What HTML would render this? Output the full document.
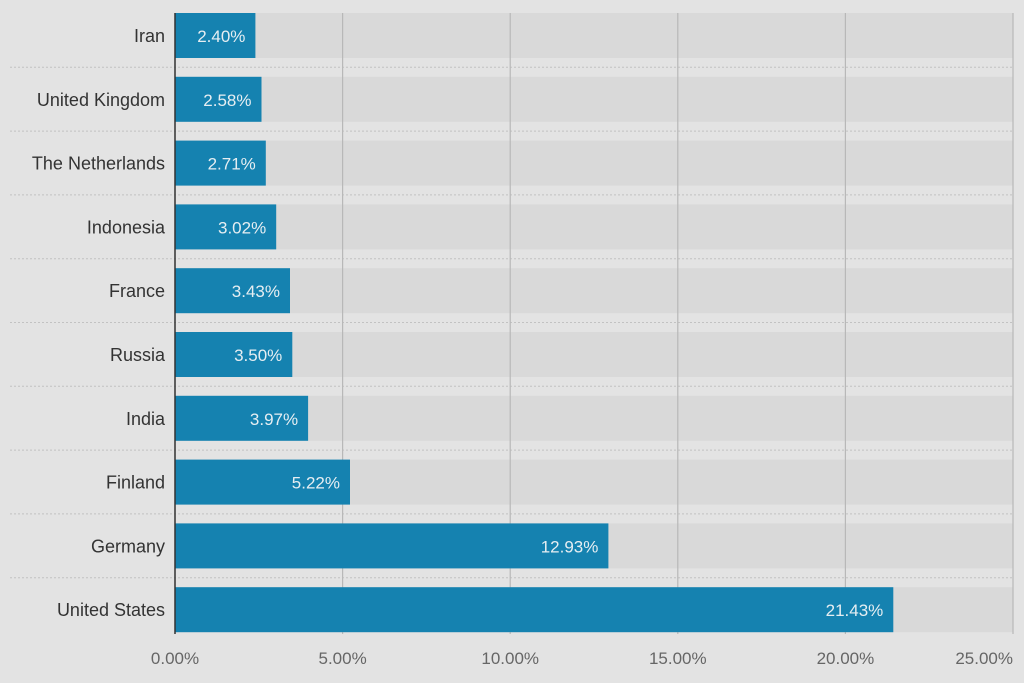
<!DOCTYPE html>
<html><head><meta charset="utf-8"><style>
body{margin:0;width:1024px;height:678px;background:#e3e3e3;overflow:hidden}
</style></head><body>
<svg width="1024" height="678" xmlns="http://www.w3.org/2000/svg" font-family="Liberation Sans, sans-serif">
<rect x="0" y="0" width="1024" height="678" fill="#e3e3e3"/>
<g fill="#d9d9d9">
<rect x="175" y="13" width="838" height="45"/>
<rect x="175" y="76.8" width="838" height="45"/>
<rect x="175" y="140.6" width="838" height="45"/>
<rect x="175" y="204.4" width="838" height="45"/>
<rect x="175" y="268.2" width="838" height="45"/>
<rect x="175" y="332" width="838" height="45"/>
<rect x="175" y="395.8" width="838" height="45"/>
<rect x="175" y="459.6" width="838" height="45"/>
<rect x="175" y="523.4" width="838" height="45"/>
<rect x="175" y="587.2" width="838" height="45"/>
</g>
<g stroke="#c2c2c2" stroke-dasharray="2,2">
<line x1="10" x2="1013" y1="67.3" y2="67.3"/>
<line x1="10" x2="1013" y1="131.1" y2="131.1"/>
<line x1="10" x2="1013" y1="194.9" y2="194.9"/>
<line x1="10" x2="1013" y1="258.7" y2="258.7"/>
<line x1="10" x2="1013" y1="322.5" y2="322.5"/>
<line x1="10" x2="1013" y1="386.3" y2="386.3"/>
<line x1="10" x2="1013" y1="450.1" y2="450.1"/>
<line x1="10" x2="1013" y1="513.9" y2="513.9"/>
<line x1="10" x2="1013" y1="577.7" y2="577.7"/>
</g>
<g stroke="#b8b8b8" stroke-width="1.2">
<line x1="342.6" x2="342.6" y1="13" y2="634"/>
<line x1="510.2" x2="510.2" y1="13" y2="634"/>
<line x1="677.8" x2="677.8" y1="13" y2="634"/>
<line x1="845.4" x2="845.4" y1="13" y2="634"/>
<line x1="1013" x2="1013" y1="13" y2="634"/>
</g>
<g fill="#1582b0">
<rect x="175" y="13" width="80.4" height="45"/>
<rect x="175" y="76.8" width="86.5" height="45"/>
<rect x="175" y="140.6" width="90.8" height="45"/>
<rect x="175" y="204.4" width="101.2" height="45"/>
<rect x="175" y="268.2" width="115" height="45"/>
<rect x="175" y="332" width="117.3" height="45"/>
<rect x="175" y="395.8" width="133.1" height="45"/>
<rect x="175" y="459.6" width="175" height="45"/>
<rect x="175" y="523.4" width="433.4" height="45"/>
<rect x="175" y="587.2" width="718.3" height="45"/>
</g>
<g fill="#e6eef2" font-size="17" text-anchor="end">
<text x="245.4" y="42">2.40%</text>
<text x="251.5" y="105.8">2.58%</text>
<text x="255.8" y="169.6">2.71%</text>
<text x="266.2" y="233.4">3.02%</text>
<text x="280" y="297.2">3.43%</text>
<text x="282.3" y="361">3.50%</text>
<text x="298.1" y="424.8">3.97%</text>
<text x="340" y="488.6">5.22%</text>
<text x="598.4" y="552.4">12.93%</text>
<text x="883.3" y="616.2">21.43%</text>
</g>
<g fill="#333" font-size="18" text-anchor="end">
<text x="165" y="42">Iran</text>
<text x="165" y="105.8">United Kingdom</text>
<text x="165" y="169.6">The Netherlands</text>
<text x="165" y="233.4">Indonesia</text>
<text x="165" y="297.2">France</text>
<text x="165" y="361">Russia</text>
<text x="165" y="424.8">India</text>
<text x="165" y="488.6">Finland</text>
<text x="165" y="552.4">Germany</text>
<text x="165" y="616.2">United States</text>
</g>
<line x1="175" x2="175" y1="13" y2="634" stroke="#333" stroke-width="1.5"/>
<g fill="#666" font-size="17" text-anchor="middle">
<text x="175" y="664">0.00%</text>
<text x="342.6" y="664">5.00%</text>
<text x="510.2" y="664">10.00%</text>
<text x="677.8" y="664">15.00%</text>
<text x="845.4" y="664">20.00%</text>
<text x="1013" y="664" text-anchor="end">25.00%</text>
</g>
</svg>
</body></html>
